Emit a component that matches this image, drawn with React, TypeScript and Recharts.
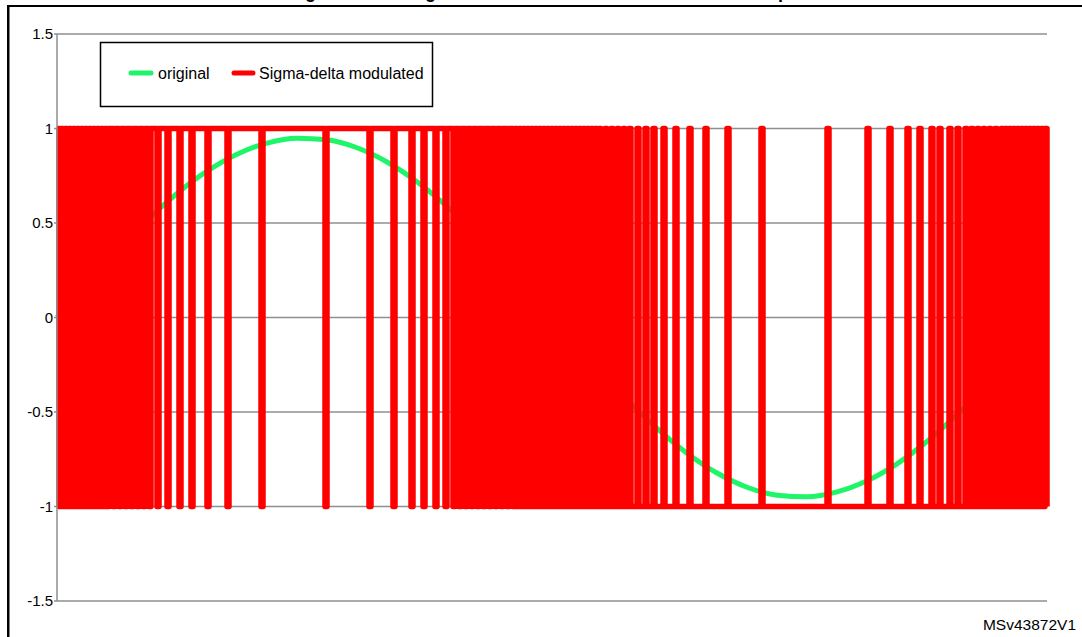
import React from 'react';
import { LineChart, Line, XAxis, YAxis, CartesianGrid } from 'recharts';

// ---------------- data ----------------
const SAMPLE_COUNT = 496; // sample indices 0..495
const POSITIVE_HALF_END = 247; // last sample index of the positive half-wave

// positive half-wave: output sits at +1, these samples dip to -1
const positiveHalfDips = [
  1, 3, 5, 7, 9, 11, 13, 15, 17, 19, 21, 23, 25, 28, 31, 34, 37, 40, 43, 46, 50, 55, 61, 67, 75, 85,
  102, 134, 156, 168, 177, 183, 189, 194, 198, 201, 204, 207, 210, 213, 216, 219, 222, 225, 228,
  230, 232, 234, 236, 238, 240, 242, 244, 246,
];

// negative half-wave: output sits at -1, these samples jump to +1
const negativeHalfPeaks = [
  249, 251, 253, 255, 257, 259, 261, 263, 265, 267, 269, 271, 274, 277, 280, 283, 286, 290, 294,
  298, 303, 309, 316, 324, 335, 352, 385, 405, 416, 425, 431, 437, 441, 446, 450, 454, 457, 460,
  463, 466, 469, 472, 474, 476, 478, 480, 482, 484, 486, 488, 490, 492, 494,
];

// original signal, read at these sample indices
const sineIndices = [
  0, 15, 30, 45, 60, 75, 90, 105, 120, 135, 150, 165, 180, 195, 210, 225, 240, 255, 270, 285, 300,
  315, 330, 345, 360, 375, 390, 405, 420, 435, 450, 465, 480, 495,
];
const sineValues = [
  0, 0.18, 0.353, 0.514, 0.656, 0.774, 0.864, 0.923, 0.949, 0.94, 0.898, 0.823, 0.718, 0.587, 0.435,
  0.268, 0.09, -0.09, -0.268, -0.435, -0.587, -0.718, -0.823, -0.898, -0.94, -0.949, -0.923, -0.864,
  -0.774, -0.656, -0.514, -0.353, -0.18, 0,
];

const yTicks = [-1.5, -1, -0.5, 0, 0.5, 1, 1.5];
const seriesNames = ['original', 'Sigma-delta modulated'];
const titleText = 'Sine wave signal and its sigma-delta modulated bitstream at the output';
const figureId = 'MSv43872V1';

const GREEN = '#1ff568';
const RED = '#ff0000';

// ---------------- table ----------------
const dipSet = new Set(positiveHalfDips);
const peakSet = new Set(negativeHalfPeaks);
const sineMap = new Map<number, number>(sineIndices.map((idx, k) => [idx, sineValues[k]]));

const data = Array.from({ length: SAMPLE_COUNT }, (_, i) => ({
  i,
  sd: i <= POSITIVE_HALF_END ? (dipSet.has(i) ? -1 : 1) : peakSet.has(i) ? 1 : -1,
  sine: sineMap.has(i) ? sineMap.get(i) : null,
}));

const FONT = '"Liberation Sans", Arial, Helvetica, sans-serif';

export default function App() {
  return (
    <div
      style={{
        position: 'absolute',
        left: 0,
        top: 0,
        width: 1082,
        height: 637,
        background: '#fff',
        overflow: 'hidden',
        fontFamily: FONT,
      }}
    >
      <div style={{ position: 'absolute', left: 0, top: 0 }}>
        <LineChart
          width={1082}
          height={637}
          data={data}
          margin={{ top: 34, right: 35, bottom: 36, left: 8 }}
        >
          <CartesianGrid vertical={false} stroke="#8f8f8f" strokeWidth={1.5} />
          <XAxis dataKey="i" type="number" domain={[0, SAMPLE_COUNT - 1]} hide />
          <YAxis
            type="number"
            domain={[-1.5, 1.5]}
            ticks={yTicks}
            interval={0}
            width={49}
            allowDataOverflow
            stroke="#8f8f8f"
            strokeWidth={1.5}
            tickSize={3}
            tickMargin={1}
            tick={{ fill: '#000', fontSize: 15, fontFamily: FONT }}
          />
          <Line
            dataKey="sine"
            type="monotone"
            stroke={GREEN}
            strokeWidth={5}
            dot={false}
            connectNulls
            isAnimationActive={false}
          />
          <Line
            dataKey="sd"
            type="stepAfter"
            stroke={RED}
            strokeWidth={5.5}
            strokeLinejoin="round"
            dot={false}
            isAnimationActive={false}
          />
        </LineChart>
      </div>
      <svg
        width={1082}
        height={637}
        style={{ position: 'absolute', left: 0, top: 0, pointerEvents: 'none' }}
      >
        {/* figure frame */}
        <rect x={7} y={5} width={1075} height={2} fill="#000" />
        <rect x={7} y={5} width={2.5} height={632} fill="#000" />
        {/* title, cut off by the top edge as in the reference */}
        <text x={198} y={-2} fontSize={18} fontWeight="bold" fontFamily={FONT} fill="#000">
          {titleText}
        </text>
        {/* legend */}
        <rect x={100.5} y={42.5} width={332} height={64} fill="#fff" stroke="#000" strokeWidth={1.5} />
        <line x1={131} y1={73} x2={151} y2={73} stroke={GREEN} strokeWidth={5} strokeLinecap="round" />
        <text x={158} y={78.5} fontSize={16} fontFamily={FONT} fill="#000">
          {seriesNames[0]}
        </text>
        <line x1={234} y1={73} x2={253} y2={73} stroke={RED} strokeWidth={5} strokeLinecap="round" />
        <text x={259} y={78.5} fontSize={16} fontFamily={FONT} fill="#000">
          {seriesNames[1]}
        </text>
        {/* figure id */}
        <text x={1076} y={630} textAnchor="end" fontSize={15.5} fontFamily={FONT} fill="#000">
          {figureId}
        </text>
      </svg>
    </div>
  );
}
